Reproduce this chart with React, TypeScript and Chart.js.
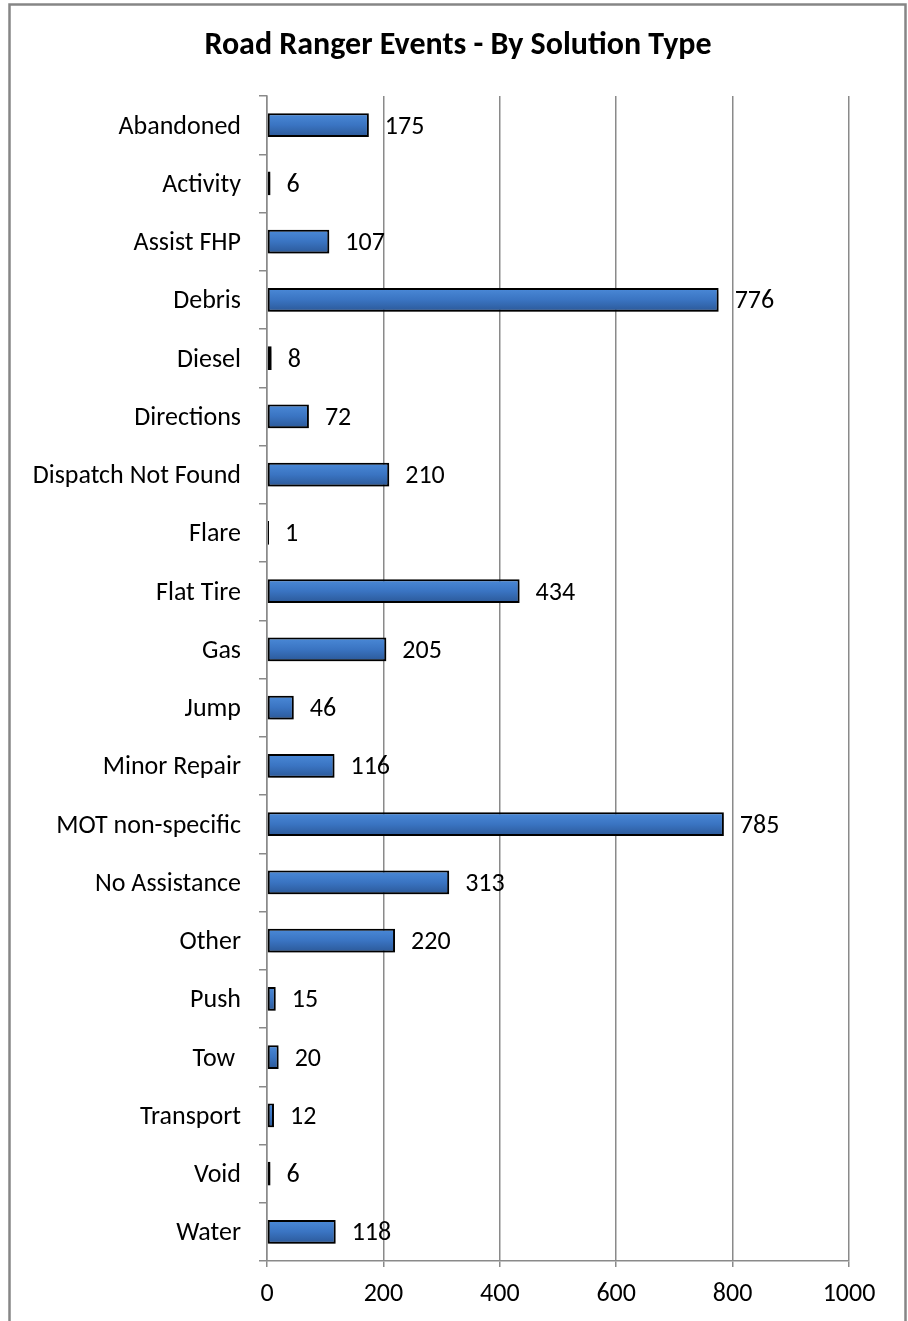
import React, { useEffect, useRef } from 'react';
import { Chart, registerables } from 'chart.js';

Chart.register(...registerables);

const categories = [
  'Abandoned', 'Activity', 'Assist FHP', 'Debris', 'Diesel', 'Directions',
  'Dispatch Not Found', 'Flare', 'Flat Tire', 'Gas', 'Jump', 'Minor Repair',
  'MOT non-specific', 'No Assistance', 'Other', 'Push', 'Tow ', 'Transport',
  'Void', 'Water',
];
const values = [175, 6, 107, 776, 8, 72, 210, 1, 434, 205, 46, 116, 785, 313, 220, 15, 20, 12, 6, 118];
const xMin = 0;
const xMax = 1000;
const xStep = 200;
const title = 'Road Ranger Events - By Solution Type';

const FONT = 'Carlito, Calibri, Lato, sans-serif';
const GRID = '#8a8a8a';
const LABEL_SIZE = 26;

const framePlugin = {
  id: 'frame',
  beforeDraw(chart: any) {
    const ctx = chart.ctx;
    ctx.save();
    ctx.fillStyle = '#ffffff';
    ctx.fillRect(0, 0, chart.width, chart.height);
    ctx.strokeStyle = '#868686';
    ctx.lineWidth = 2.5;
    ctx.beginPath();
    ctx.moveTo(9.5, chart.height + 5);
    ctx.lineTo(9.5, 4.5);
    ctx.lineTo(905.5, 4.5);
    ctx.lineTo(905.5, chart.height + 5);
    ctx.stroke();
    ctx.fillStyle = '#000000';
    ctx.font = `bold 32px ${FONT}`;
    ctx.textAlign = 'center';
    ctx.textBaseline = 'middle';
    ctx.fillText(title, 458, 46);
    ctx.restore();
  },
  beforeDatasetsDraw(chart: any) {
    const ctx = chart.ctx;
    ctx.save();
    ctx.shadowColor = 'rgba(0,0,0,0.35)';
    ctx.shadowBlur = 4;
    ctx.shadowOffsetX = 1;
    ctx.shadowOffsetY = 3;
  },
  afterDatasetsDraw(chart: any) {
    const ctx = chart.ctx;
    ctx.restore();
    ctx.save();
    ctx.fillStyle = '#000000';
    ctx.font = `${LABEL_SIZE}px ${FONT}`;
    ctx.textAlign = 'left';
    ctx.textBaseline = 'middle';
    const meta = chart.getDatasetMeta(0);
    meta.data.forEach((el: any, i: number) => {
      ctx.fillText(String(values[i]), el.x + 16, el.y + 2);
    });
    ctx.restore();
  },
};

export default function App() {
  const ref = useRef<HTMLCanvasElement | null>(null);
  useEffect(() => {
    const canvas = ref.current!;
    const chart = new Chart(canvas, {
      type: 'bar',
      data: {
        labels: categories,
        datasets: [
          {
            data: values,
            backgroundColor: (c: any) => {
              const ch = c.chart;
              const ys = ch.scales?.y;
              if (!ys || !ch.chartArea || c.dataIndex === undefined) return '#3a72bd';
              const yc = ys.getPixelForValue(c.dataIndex);
              if (!Number.isFinite(yc)) return '#3a72bd';
              const g = ch.ctx.createLinearGradient(0, yc - 12, 0, yc + 12);
              g.addColorStop(0, '#4b8ad8');
              g.addColorStop(0.5, '#3a74c2');
              g.addColorStop(1, '#2b5897');
              return g;
            },
            borderColor: '#000000',
            borderWidth: 2,
            borderSkipped: false,
            minBarLength: 2,
            categoryPercentage: 1,
            barPercentage: 0.41,
          },
        ],
      },
      options: {
        indexAxis: 'y',
        animation: false,
        responsive: false,
        devicePixelRatio: 1,
        layout: { padding: { top: 96, right: 59, left: 0, bottom: 0 } },
        plugins: {
          legend: { display: false },
          title: { display: false },
          tooltip: { enabled: false },
        },
        scales: {
          x: {
            min: xMin,
            max: xMax,
            ticks: {
              stepSize: xStep,
              color: '#000000',
              font: { family: FONT, size: LABEL_SIZE },
              padding: 12,
              callback: (v: any) => String(v),
            },
            grid: {
              color: GRID,
              lineWidth: 1.5,
              tickLength: 6,
              drawTicks: true,
            },
            border: { display: true, color: GRID, width: 1.5 },
            afterFit: (s: any) => { s.height = 60; },
          },
          y: {
            ticks: {
              color: '#000000',
              font: { family: FONT, size: LABEL_SIZE },
              padding: 18,
              labelOffset: 2,
            },
            grid: {
              offset: true,
              drawOnChartArea: false,
              color: GRID,
              lineWidth: 1.5,
              tickLength: 8,
            },
            border: { display: true, color: GRID, width: 1.5 },
            afterFit: (s: any) => { s.width = 267; },
          },
        },
      },
      plugins: [framePlugin],
    });
    return () => chart.destroy();
  }, []);
  return (
    <div style={{ position: 'absolute', left: 0, top: 0, width: 908, height: 1321 }}>
      <canvas ref={ref} width={908} height={1321} style={{ display: 'block' }} />
    </div>
  );
}
